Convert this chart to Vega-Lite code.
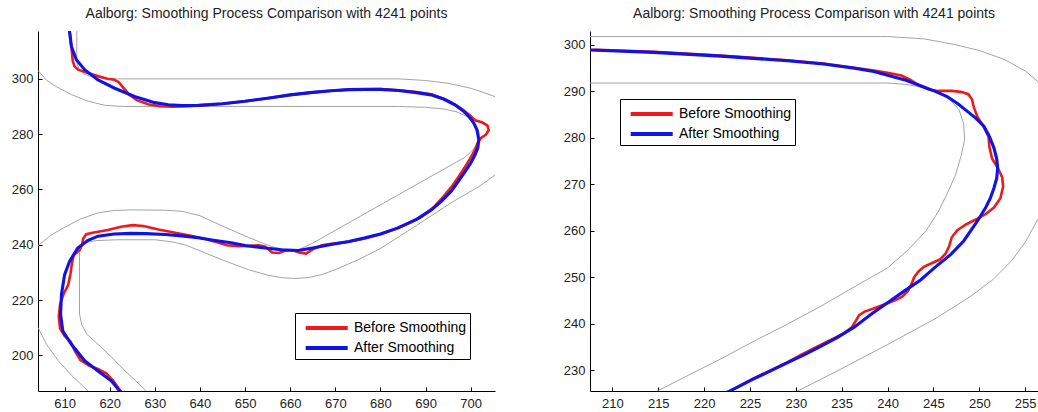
{
"$schema": "https://vega.github.io/schema/vega-lite/v6.json",
"background": "white",
"padding": {"left": 11, "top": 7, "right": 0, "bottom": 0},
"spacing": 68,
"config": {
  "view": {"stroke": null},
  "font": "Liberation Sans",
  "axis": {"grid": false, "title": null, "domainColor": "#000", "domainWidth": 1, "tickColor": "#000", "tickWidth": 1, "tickSize": -4, "labelColor": "#222", "labelFont": "Liberation Sans", "labelFontSize": 13},
  "axisX": {"labelPadding": 10},
  "axisY": {"labelPadding": 9},
  "title": {"font": "Liberation Sans", "fontSize": 14, "fontWeight": "normal", "color": "#222", "offset": 10, "baseline": "alphabetic"},
  "legend": {"title": null, "orient": "none", "symbolType": "M-0.43,0H3.77", "symbolSize": 400, "symbolStrokeWidth": 4, "labelOffset": 32, "padding": 3, "rowPadding": 0, "strokeColor": "#000", "fillColor": "#fff", "labelFont": "Liberation Sans", "labelFontSize": 14, "labelColor": "#000"}
},
"resolve": {"scale": {"color": "independent"}},
"datasets": {
"L": [
{"s":"g1","i":0,"x":612.7,"y":318},{"s":"g1","i":1,"x":612.7,"y":306},{"s":"g1","i":2,"x":613.2,"y":303.5},{"s":"g1","i":3,"x":614.5,"y":301.6},{"s":"g1","i":4,"x":616.5,"y":300.5},{"s":"g1","i":5,"x":619,"y":300.05},{"s":"g1","i":6,"x":622,"y":300},{"s":"g1","i":7,"x":684,"y":300},{"s":"g1","i":8,"x":690,"y":299.4},{"s":"g1","i":9,"x":695,"y":298.4},{"s":"g1","i":10,"x":700,"y":296.6},{"s":"g1","i":11,"x":703,"y":295},{"s":"g1","i":12,"x":706,"y":293.2},
{"s":"g2","i":0,"x":603,"y":304},{"s":"g2","i":1,"x":604.1,"y":303},{"s":"g2","i":2,"x":606,"y":299.5},{"s":"g2","i":3,"x":608,"y":297.3},{"s":"g2","i":4,"x":611.5,"y":294.3},{"s":"g2","i":5,"x":615.2,"y":291.9},{"s":"g2","i":6,"x":619,"y":290.4},{"s":"g2","i":7,"x":623,"y":290},{"s":"g2","i":8,"x":684,"y":290},{"s":"g2","i":9,"x":690,"y":289.7},{"s":"g2","i":10,"x":694,"y":289.1},{"s":"g2","i":11,"x":697,"y":288},{"s":"g2","i":12,"x":699,"y":286.5},{"s":"g2","i":13,"x":700.8,"y":284},{"s":"g2","i":14,"x":701.8,"y":281},{"s":"g2","i":15,"x":701.9,"y":278.5},{"s":"g2","i":16,"x":701.3,"y":276},{"s":"g2","i":17,"x":700.2,"y":273.8},{"s":"g2","i":18,"x":698.7,"y":271.6},{"s":"g2","i":19,"x":665,"y":240.6},{"s":"g2","i":20,"x":662,"y":238.3},
{"s":"g3","i":0,"x":603,"y":238.4},{"s":"g3","i":1,"x":604.5,"y":240.2},{"s":"g3","i":2,"x":607,"y":243.5},{"s":"g3","i":3,"x":610,"y":246.3},{"s":"g3","i":4,"x":613.5,"y":249.3},{"s":"g3","i":5,"x":617.4,"y":251.5},{"s":"g3","i":6,"x":621,"y":252.4},{"s":"g3","i":7,"x":625,"y":252.6},{"s":"g3","i":8,"x":632,"y":252.5},{"s":"g3","i":9,"x":636,"y":252.1},{"s":"g3","i":10,"x":640,"y":250.5},{"s":"g3","i":11,"x":643.3,"y":248},{"s":"g3","i":12,"x":647,"y":245.3},{"s":"g3","i":13,"x":650.7,"y":242.7},{"s":"g3","i":14,"x":654,"y":240.5},{"s":"g3","i":15,"x":656.6,"y":239},{"s":"g3","i":16,"x":659.5,"y":238.1},{"s":"g3","i":17,"x":662,"y":238.3},
{"s":"g4","i":0,"x":629,"y":185.6},{"s":"g4","i":1,"x":628.1,"y":187.1},{"s":"g4","i":2,"x":626,"y":190.4},{"s":"g4","i":3,"x":623,"y":195},{"s":"g4","i":4,"x":620,"y":200},{"s":"g4","i":5,"x":617.4,"y":204},{"s":"g4","i":6,"x":615,"y":207.5},{"s":"g4","i":7,"x":613.8,"y":211},{"s":"g4","i":8,"x":613.3,"y":215},{"s":"g4","i":9,"x":613.3,"y":237},{"s":"g4","i":10,"x":613.7,"y":239.5},{"s":"g4","i":11,"x":614.8,"y":240.8},{"s":"g4","i":12,"x":617,"y":241.5},{"s":"g4","i":13,"x":622,"y":241.8},{"s":"g4","i":14,"x":630,"y":241.8},{"s":"g4","i":15,"x":634,"y":241},{"s":"g4","i":16,"x":637,"y":239.8},{"s":"g4","i":17,"x":640,"y":237.8},{"s":"g4","i":18,"x":645,"y":234.5},{"s":"g4","i":19,"x":650.7,"y":231},{"s":"g4","i":20,"x":655,"y":229},{"s":"g4","i":21,"x":658,"y":228.1},{"s":"g4","i":22,"x":661,"y":227.8},{"s":"g4","i":23,"x":664,"y":228.1},{"s":"g4","i":24,"x":667,"y":229.2},{"s":"g4","i":25,"x":670,"y":231},{"s":"g4","i":26,"x":675,"y":234.5},{"s":"g4","i":27,"x":680.2,"y":238.8},{"s":"g4","i":28,"x":688,"y":247},{"s":"g4","i":29,"x":696.2,"y":255.7},{"s":"g4","i":30,"x":701.7,"y":260.9},{"s":"g4","i":31,"x":706,"y":265.9},
{"s":"g5","i":0,"x":603,"y":213},{"s":"g5","i":1,"x":604.1,"y":210},{"s":"g5","i":2,"x":606,"y":204},{"s":"g5","i":3,"x":608.5,"y":198.2},{"s":"g5","i":4,"x":611.5,"y":192.8},{"s":"g5","i":5,"x":615.2,"y":187.1},{"s":"g5","i":6,"x":616,"y":186},
{"s":"Before Smoothing","i":0,"x":611.0,"y":318},{"s":"Before Smoothing","i":1,"x":611.1,"y":317.1},{"s":"Before Smoothing","i":2,"x":611.5,"y":311.7},{"s":"Before Smoothing","i":3,"x":611.8,"y":306.5},{"s":"Before Smoothing","i":4,"x":612.2,"y":304.5},{"s":"Before Smoothing","i":5,"x":613,"y":303.3},{"s":"Before Smoothing","i":6,"x":615,"y":302.2},{"s":"Before Smoothing","i":7,"x":617.5,"y":300.9},{"s":"Before Smoothing","i":8,"x":619.5,"y":300},{"s":"Before Smoothing","i":9,"x":621,"y":299.7},{"s":"Before Smoothing","i":10,"x":622,"y":298.8},{"s":"Before Smoothing","i":11,"x":623,"y":296.8},{"s":"Before Smoothing","i":12,"x":624.3,"y":294.3},{"s":"Before Smoothing","i":13,"x":626,"y":292.3},{"s":"Before Smoothing","i":14,"x":628.5,"y":290.8},{"s":"Before Smoothing","i":15,"x":631,"y":290.1},{"s":"Before Smoothing","i":16,"x":634,"y":289.9},{"s":"Before Smoothing","i":17,"x":637,"y":290.1},{"s":"Before Smoothing","i":18,"x":640,"y":290.4},{"s":"Before Smoothing","i":19,"x":645,"y":291},{"s":"Before Smoothing","i":20,"x":650,"y":291.9},{"s":"Before Smoothing","i":21,"x":655,"y":293},{"s":"Before Smoothing","i":22,"x":660,"y":294.2},{"s":"Before Smoothing","i":23,"x":665,"y":295.1},{"s":"Before Smoothing","i":24,"x":669.1,"y":295.7},{"s":"Before Smoothing","i":25,"x":673,"y":296.1},{"s":"Before Smoothing","i":26,"x":676.6,"y":296.2},{"s":"Before Smoothing","i":27,"x":680,"y":296.3},{"s":"Before Smoothing","i":28,"x":684,"y":295.9},{"s":"Before Smoothing","i":29,"x":688,"y":295.2},{"s":"Before Smoothing","i":30,"x":691.5,"y":294.3},{"s":"Before Smoothing","i":31,"x":694.5,"y":292.5},{"s":"Before Smoothing","i":32,"x":696.5,"y":290.8},{"s":"Before Smoothing","i":33,"x":698.3,"y":288.8},{"s":"Before Smoothing","i":34,"x":699.8,"y":286.8},{"s":"Before Smoothing","i":35,"x":701,"y":285},{"s":"Before Smoothing","i":36,"x":702.5,"y":284.3},{"s":"Before Smoothing","i":37,"x":703.7,"y":283.2},{"s":"Before Smoothing","i":38,"x":704,"y":281.5},{"s":"Before Smoothing","i":39,"x":703.4,"y":279.8},{"s":"Before Smoothing","i":40,"x":702.3,"y":278.6},{"s":"Before Smoothing","i":41,"x":701.6,"y":277},{"s":"Before Smoothing","i":42,"x":701,"y":274.5},{"s":"Before Smoothing","i":43,"x":700,"y":271.5},{"s":"Before Smoothing","i":44,"x":698.7,"y":268},{"s":"Before Smoothing","i":45,"x":697.3,"y":264.5},{"s":"Before Smoothing","i":46,"x":695.8,"y":261},{"s":"Before Smoothing","i":47,"x":694,"y":257.5},{"s":"Before Smoothing","i":48,"x":691.8,"y":253.5},{"s":"Before Smoothing","i":49,"x":689,"y":250},{"s":"Before Smoothing","i":50,"x":686,"y":247.6},{"s":"Before Smoothing","i":51,"x":683.5,"y":245.8},{"s":"Before Smoothing","i":52,"x":680,"y":243.8},{"s":"Before Smoothing","i":53,"x":676.6,"y":242.3},{"s":"Before Smoothing","i":54,"x":673,"y":241.1},{"s":"Before Smoothing","i":55,"x":669.5,"y":240.4},{"s":"Before Smoothing","i":56,"x":667,"y":239.8},{"s":"Before Smoothing","i":57,"x":665,"y":238.3},{"s":"Before Smoothing","i":58,"x":663.5,"y":236.8},{"s":"Before Smoothing","i":59,"x":662,"y":237.2},{"s":"Before Smoothing","i":60,"x":660.5,"y":238},{"s":"Before Smoothing","i":61,"x":659,"y":237.9},{"s":"Before Smoothing","i":62,"x":657.5,"y":237},{"s":"Before Smoothing","i":63,"x":656,"y":237.2},{"s":"Before Smoothing","i":64,"x":654.5,"y":239.3},{"s":"Before Smoothing","i":65,"x":653,"y":239.8},{"s":"Before Smoothing","i":66,"x":651,"y":239.6},{"s":"Before Smoothing","i":67,"x":648.5,"y":239.5},{"s":"Before Smoothing","i":68,"x":646,"y":239.8},{"s":"Before Smoothing","i":69,"x":644,"y":240.8},{"s":"Before Smoothing","i":70,"x":641,"y":242.2},{"s":"Before Smoothing","i":71,"x":638,"y":243.2},{"s":"Before Smoothing","i":72,"x":634.5,"y":244.3},{"s":"Before Smoothing","i":73,"x":630.8,"y":245.5},{"s":"Before Smoothing","i":74,"x":627.5,"y":246.8},{"s":"Before Smoothing","i":75,"x":625,"y":247.1},{"s":"Before Smoothing","i":76,"x":622.5,"y":246.5},{"s":"Before Smoothing","i":77,"x":619.6,"y":245.3},{"s":"Before Smoothing","i":78,"x":616.5,"y":244.4},{"s":"Before Smoothing","i":79,"x":614.8,"y":243.8},{"s":"Before Smoothing","i":80,"x":614.1,"y":242.2},{"s":"Before Smoothing","i":81,"x":613.9,"y":240},{"s":"Before Smoothing","i":82,"x":613.3,"y":238},{"s":"Before Smoothing","i":83,"x":612,"y":236.2},{"s":"Before Smoothing","i":84,"x":611.6,"y":233},{"s":"Before Smoothing","i":85,"x":611.3,"y":229.5},{"s":"Before Smoothing","i":86,"x":610.8,"y":225.5},{"s":"Before Smoothing","i":87,"x":609.8,"y":222.3},{"s":"Before Smoothing","i":88,"x":609,"y":218.5},{"s":"Before Smoothing","i":89,"x":608.7,"y":214},{"s":"Before Smoothing","i":90,"x":609,"y":209.7},{"s":"Before Smoothing","i":91,"x":610,"y":207},{"s":"Before Smoothing","i":92,"x":611.3,"y":205},{"s":"Before Smoothing","i":93,"x":612.2,"y":201.8},{"s":"Before Smoothing","i":94,"x":613.5,"y":198.3},{"s":"Before Smoothing","i":95,"x":615.5,"y":196.2},{"s":"Before Smoothing","i":96,"x":617.5,"y":195},{"s":"Before Smoothing","i":97,"x":619.2,"y":193.5},{"s":"Before Smoothing","i":98,"x":620.7,"y":191},{"s":"Before Smoothing","i":99,"x":622.4,"y":187.1},{"s":"Before Smoothing","i":100,"x":623.2,"y":186},
{"s":"After Smoothing","i":0,"x":611.0,"y":318},{"s":"After Smoothing","i":1,"x":611.1,"y":317.1},{"s":"After Smoothing","i":2,"x":611.5,"y":311.7},{"s":"After Smoothing","i":3,"x":612.6,"y":306.9},{"s":"After Smoothing","i":4,"x":614.5,"y":303.2},{"s":"After Smoothing","i":5,"x":617.4,"y":299.6},{"s":"After Smoothing","i":6,"x":621.1,"y":296.6},{"s":"After Smoothing","i":7,"x":625.5,"y":293.6},{"s":"After Smoothing","i":8,"x":630,"y":291.4},{"s":"After Smoothing","i":9,"x":633,"y":290.6},{"s":"After Smoothing","i":10,"x":636,"y":290.3},{"s":"After Smoothing","i":11,"x":639.6,"y":290.4},{"s":"After Smoothing","i":12,"x":645,"y":291},{"s":"After Smoothing","i":13,"x":650,"y":291.9},{"s":"After Smoothing","i":14,"x":655,"y":293},{"s":"After Smoothing","i":15,"x":660,"y":294.2},{"s":"After Smoothing","i":16,"x":665,"y":295.1},{"s":"After Smoothing","i":17,"x":669.1,"y":295.7},{"s":"After Smoothing","i":18,"x":673,"y":296.1},{"s":"After Smoothing","i":19,"x":676.6,"y":296.2},{"s":"After Smoothing","i":20,"x":680,"y":296.2},{"s":"After Smoothing","i":21,"x":684,"y":295.8},{"s":"After Smoothing","i":22,"x":688,"y":295},{"s":"After Smoothing","i":23,"x":691.2,"y":294.2},{"s":"After Smoothing","i":24,"x":694,"y":292.7},{"s":"After Smoothing","i":25,"x":696.5,"y":290.6},{"s":"After Smoothing","i":26,"x":698.3,"y":288.5},{"s":"After Smoothing","i":27,"x":699.6,"y":286.4},{"s":"After Smoothing","i":28,"x":700.7,"y":284},{"s":"After Smoothing","i":29,"x":701.4,"y":281.6},{"s":"After Smoothing","i":30,"x":701.8,"y":278},{"s":"After Smoothing","i":31,"x":701.6,"y":275},{"s":"After Smoothing","i":32,"x":701,"y":272.6},{"s":"After Smoothing","i":33,"x":700,"y":269.5},{"s":"After Smoothing","i":34,"x":698.8,"y":266.5},{"s":"After Smoothing","i":35,"x":697.3,"y":263},{"s":"After Smoothing","i":36,"x":695.7,"y":259.3},{"s":"After Smoothing","i":37,"x":693.5,"y":255.7},{"s":"After Smoothing","i":38,"x":691.2,"y":252.5},{"s":"After Smoothing","i":39,"x":688,"y":249.2},{"s":"After Smoothing","i":40,"x":683.9,"y":246.1},{"s":"After Smoothing","i":41,"x":680,"y":243.9},{"s":"After Smoothing","i":42,"x":676.6,"y":242.5},{"s":"After Smoothing","i":43,"x":673,"y":241.2},{"s":"After Smoothing","i":44,"x":669.1,"y":240.1},{"s":"After Smoothing","i":45,"x":665,"y":238.8},{"s":"After Smoothing","i":46,"x":661.8,"y":237.9},{"s":"After Smoothing","i":47,"x":658,"y":238.2},{"s":"After Smoothing","i":48,"x":654.4,"y":238.8},{"s":"After Smoothing","i":49,"x":650,"y":239.7},{"s":"After Smoothing","i":50,"x":646.9,"y":240.7},{"s":"After Smoothing","i":51,"x":643,"y":241.6},{"s":"After Smoothing","i":52,"x":639.6,"y":242.5},{"s":"After Smoothing","i":53,"x":636,"y":243.2},{"s":"After Smoothing","i":54,"x":632.3,"y":243.7},{"s":"After Smoothing","i":55,"x":628,"y":244},{"s":"After Smoothing","i":56,"x":624.7,"y":244.1},{"s":"After Smoothing","i":57,"x":621,"y":243.9},{"s":"After Smoothing","i":58,"x":617.4,"y":243.1},{"s":"After Smoothing","i":59,"x":615.2,"y":241.6},{"s":"After Smoothing","i":60,"x":612.9,"y":238.8},{"s":"After Smoothing","i":61,"x":611.1,"y":234},{"s":"After Smoothing","i":62,"x":610,"y":229.2},{"s":"After Smoothing","i":63,"x":609.3,"y":222},{"s":"After Smoothing","i":64,"x":609.1,"y":214.8},{"s":"After Smoothing","i":65,"x":609.6,"y":208.8},{"s":"After Smoothing","i":66,"x":611.5,"y":204},{"s":"After Smoothing","i":67,"x":614.5,"y":198},{"s":"After Smoothing","i":68,"x":617.4,"y":194.3},{"s":"After Smoothing","i":69,"x":620.4,"y":190.7},{"s":"After Smoothing","i":70,"x":622.2,"y":187.1},{"s":"After Smoothing","i":71,"x":623,"y":186}
],
"R": [
{"s":"h1","i":0,"x":207,"y":301.8},{"s":"h1","i":1,"x":240,"y":301.8},{"s":"h1","i":2,"x":244,"y":301.3},{"s":"h1","i":3,"x":247.3,"y":300.1},{"s":"h1","i":4,"x":250,"y":298.8},{"s":"h1","i":5,"x":252.7,"y":296.9},{"s":"h1","i":6,"x":255,"y":294.4},{"s":"h1","i":7,"x":256.4,"y":292.1},{"s":"h1","i":8,"x":257.5,"y":289.8},
{"s":"h2","i":0,"x":207,"y":291.8},{"s":"h2","i":1,"x":240,"y":291.8},{"s":"h2","i":2,"x":242,"y":291.5},{"s":"h2","i":3,"x":244,"y":290.8},{"s":"h2","i":4,"x":245.7,"y":289.6},{"s":"h2","i":5,"x":246.9,"y":288},{"s":"h2","i":6,"x":247.8,"y":286},{"s":"h2","i":7,"x":248.3,"y":283},{"s":"h2","i":8,"x":248.4,"y":279.5},{"s":"h2","i":9,"x":248,"y":276},{"s":"h2","i":10,"x":247.4,"y":272},{"s":"h2","i":11,"x":246.5,"y":268},{"s":"h2","i":12,"x":245.5,"y":264},{"s":"h2","i":13,"x":244.2,"y":260},{"s":"h2","i":14,"x":242.3,"y":256},{"s":"h2","i":15,"x":240,"y":252},{"s":"h2","i":16,"x":236,"y":247.5},{"s":"h2","i":17,"x":232.5,"y":243.5},{"s":"h2","i":18,"x":229.1,"y":239.9},{"s":"h2","i":19,"x":225.5,"y":236.3},{"s":"h2","i":20,"x":222,"y":232.6},{"s":"h2","i":21,"x":218,"y":228.6},{"s":"h2","i":22,"x":215.3,"y":225.9},{"s":"h2","i":23,"x":214.5,"y":225.1},
{"s":"h3","i":0,"x":229.5,"y":224.8},{"s":"h3","i":1,"x":230.3,"y":225.6},{"s":"h3","i":2,"x":234.5,"y":229.8},{"s":"h3","i":3,"x":240,"y":235.5},{"s":"h3","i":4,"x":245.4,"y":241.3},{"s":"h3","i":5,"x":249,"y":245.8},{"s":"h3","i":6,"x":251.5,"y":249.5},{"s":"h3","i":7,"x":253.5,"y":253.5},{"s":"h3","i":8,"x":255,"y":257.5},{"s":"h3","i":9,"x":256.4,"y":262.5},{"s":"h3","i":10,"x":257.5,"y":267},
{"s":"Before Smoothing","i":0,"x":207,"y":299.1},{"s":"Before Smoothing","i":1,"x":207.6,"y":299},{"s":"Before Smoothing","i":2,"x":214.5,"y":298.5},{"s":"Before Smoothing","i":3,"x":221.8,"y":297.7},{"s":"Before Smoothing","i":4,"x":229.1,"y":296.7},{"s":"Before Smoothing","i":5,"x":233,"y":296},{"s":"Before Smoothing","i":6,"x":236.4,"y":295.1},{"s":"Before Smoothing","i":7,"x":238.5,"y":294.5},{"s":"Before Smoothing","i":8,"x":240,"y":294},{"s":"Before Smoothing","i":9,"x":241.5,"y":293.4},{"s":"Before Smoothing","i":10,"x":242.5,"y":292.5},{"s":"Before Smoothing","i":11,"x":243.5,"y":291.2},{"s":"Before Smoothing","i":12,"x":244.5,"y":290.4},{"s":"Before Smoothing","i":13,"x":245.5,"y":290.1},{"s":"Before Smoothing","i":14,"x":247,"y":290.1},{"s":"Before Smoothing","i":15,"x":248,"y":289.9},{"s":"Before Smoothing","i":16,"x":248.8,"y":289.4},{"s":"Before Smoothing","i":17,"x":249.2,"y":288.3},{"s":"Before Smoothing","i":18,"x":249.4,"y":286.6},{"s":"Before Smoothing","i":19,"x":249.8,"y":284.5},{"s":"Before Smoothing","i":20,"x":250.5,"y":282.3},{"s":"Before Smoothing","i":21,"x":251,"y":280.3},{"s":"Before Smoothing","i":22,"x":251.1,"y":278},{"s":"Before Smoothing","i":23,"x":251.4,"y":275.5},{"s":"Before Smoothing","i":24,"x":252,"y":273.6},{"s":"Before Smoothing","i":25,"x":252.5,"y":271.5},{"s":"Before Smoothing","i":26,"x":252.6,"y":269.5},{"s":"Before Smoothing","i":27,"x":252.3,"y":267},{"s":"Before Smoothing","i":28,"x":251.6,"y":265},{"s":"Before Smoothing","i":29,"x":250.7,"y":263.6},{"s":"Before Smoothing","i":30,"x":249.8,"y":262.6},{"s":"Before Smoothing","i":31,"x":248.6,"y":261.4},{"s":"Before Smoothing","i":32,"x":247.6,"y":260.1},{"s":"Before Smoothing","i":33,"x":247,"y":258.6},{"s":"Before Smoothing","i":34,"x":246.7,"y":256.6},{"s":"Before Smoothing","i":35,"x":246.3,"y":255},{"s":"Before Smoothing","i":36,"x":245.7,"y":253.8},{"s":"Before Smoothing","i":37,"x":244.8,"y":253},{"s":"Before Smoothing","i":38,"x":244,"y":252.3},{"s":"Before Smoothing","i":39,"x":243.4,"y":251.3},{"s":"Before Smoothing","i":40,"x":242.9,"y":250},{"s":"Before Smoothing","i":41,"x":242.6,"y":248.5},{"s":"Before Smoothing","i":42,"x":242.2,"y":247},{"s":"Before Smoothing","i":43,"x":241.6,"y":245.8},{"s":"Before Smoothing","i":44,"x":240.8,"y":245},{"s":"Before Smoothing","i":45,"x":240,"y":244.4},{"s":"Before Smoothing","i":46,"x":239.2,"y":243.8},{"s":"Before Smoothing","i":47,"x":238.4,"y":243.2},{"s":"Before Smoothing","i":48,"x":237.5,"y":242.6},{"s":"Before Smoothing","i":49,"x":236.9,"y":241.8},{"s":"Before Smoothing","i":50,"x":236.5,"y":240.5},{"s":"Before Smoothing","i":51,"x":236.1,"y":239.2},{"s":"Before Smoothing","i":52,"x":235.3,"y":238},{"s":"Before Smoothing","i":53,"x":234.3,"y":237},{"s":"Before Smoothing","i":54,"x":233.3,"y":236},{"s":"Before Smoothing","i":55,"x":232,"y":234.7},{"s":"Before Smoothing","i":56,"x":230.5,"y":233.2},{"s":"Before Smoothing","i":57,"x":229.1,"y":231.7},{"s":"Before Smoothing","i":58,"x":227.3,"y":230},{"s":"Before Smoothing","i":59,"x":225.4,"y":228.2},{"s":"Before Smoothing","i":60,"x":222.9,"y":225.6},{"s":"Before Smoothing","i":61,"x":222.3,"y":225},
{"s":"After Smoothing","i":0,"x":207,"y":299},{"s":"After Smoothing","i":1,"x":207.6,"y":298.9},{"s":"After Smoothing","i":2,"x":214.5,"y":298.4},{"s":"After Smoothing","i":3,"x":221.8,"y":297.6},{"s":"After Smoothing","i":4,"x":229.1,"y":296.6},{"s":"After Smoothing","i":5,"x":233,"y":295.9},{"s":"After Smoothing","i":6,"x":236.4,"y":295},{"s":"After Smoothing","i":7,"x":238.5,"y":294.3},{"s":"After Smoothing","i":8,"x":240,"y":293.5},{"s":"After Smoothing","i":9,"x":242,"y":292.4},{"s":"After Smoothing","i":10,"x":243.6,"y":291.2},{"s":"After Smoothing","i":11,"x":245.2,"y":290},{"s":"After Smoothing","i":12,"x":246.5,"y":288.9},{"s":"After Smoothing","i":13,"x":247.7,"y":287.3},{"s":"After Smoothing","i":14,"x":248.7,"y":285.7},{"s":"After Smoothing","i":15,"x":249.7,"y":284.1},{"s":"After Smoothing","i":16,"x":250.5,"y":282.5},{"s":"After Smoothing","i":17,"x":251.1,"y":280.3},{"s":"After Smoothing","i":18,"x":251.6,"y":277.8},{"s":"After Smoothing","i":19,"x":251.9,"y":275.5},{"s":"After Smoothing","i":20,"x":252,"y":273.5},{"s":"After Smoothing","i":21,"x":251.9,"y":271.3},{"s":"After Smoothing","i":22,"x":251.6,"y":269.2},{"s":"After Smoothing","i":23,"x":251.2,"y":267},{"s":"After Smoothing","i":24,"x":250.7,"y":265},{"s":"After Smoothing","i":25,"x":249.8,"y":262.1},{"s":"After Smoothing","i":26,"x":248.3,"y":257.8},{"s":"After Smoothing","i":27,"x":246.9,"y":254.9},{"s":"After Smoothing","i":28,"x":245.1,"y":252},{"s":"After Smoothing","i":29,"x":243.6,"y":249.4},{"s":"After Smoothing","i":30,"x":241.8,"y":247},{"s":"After Smoothing","i":31,"x":240,"y":244.5},{"s":"After Smoothing","i":32,"x":238.2,"y":242},{"s":"After Smoothing","i":33,"x":236.4,"y":239.3},{"s":"After Smoothing","i":34,"x":234.5,"y":237},{"s":"After Smoothing","i":35,"x":232.7,"y":235.1},{"s":"After Smoothing","i":36,"x":231,"y":233.4},{"s":"After Smoothing","i":37,"x":229.1,"y":231.6},{"s":"After Smoothing","i":38,"x":227.3,"y":229.9},{"s":"After Smoothing","i":39,"x":225.4,"y":228.1},{"s":"After Smoothing","i":40,"x":222.9,"y":225.6},{"s":"After Smoothing","i":41,"x":222.3,"y":225}
]
},
"hconcat": [
{
  "width": 457, "height": 360,
  "title": "Aalborg: Smoothing Process Comparison with 4241 points",
  "data": {"name": "L"},
  "encoding": {
    "x": {"field": "x", "type": "quantitative", "scale": {"domain": [604.1, 705.4], "nice": false, "zero": false}, "axis": {"values": [610,620,630,640,650,660,670,680,690,700]}},
    "y": {"field": "y", "type": "quantitative", "scale": {"domain": [187.1, 317.3], "nice": false, "zero": false}, "axis": {"values": [200,220,240,260,280,300]}},
    "order": {"field": "i", "type": "quantitative"}
  },
  "layer": [
    {"transform": [{"filter": {"not": {"field": "s", "oneOf": ["Before Smoothing", "After Smoothing"]}}}],
     "mark": {"type": "line", "clip": true, "color": "#9a9a9a", "strokeWidth": 0.9},
     "encoding": {"detail": {"field": "s"}}},
    {"transform": [{"filter": {"field": "s", "equal": "Before Smoothing"}}],
     "mark": {"type": "line", "clip": true, "strokeWidth": 2.6},
     "encoding": {"color": {"field": "s", "type": "nominal", "scale": {"domain": ["Before Smoothing", "After Smoothing"], "range": ["#ee1a1a", "#1212e6"]}, "legend": {"legendX": 257, "legendY": 282}}}},
    {"transform": [{"filter": {"field": "s", "equal": "After Smoothing"}}],
     "mark": {"type": "line", "clip": true, "strokeWidth": 3.1},
     "encoding": {"color": {"field": "s", "type": "nominal", "scale": {"domain": ["Before Smoothing", "After Smoothing"], "range": ["#ee1a1a", "#1212e6"]}, "legend": {"legendX": 257, "legendY": 282}}}}
  ]
},
{
  "width": 448, "height": 360,
  "title": "Aalborg: Smoothing Process Comparison with 4241 points",
  "data": {"name": "R"},
  "encoding": {
    "x": {"field": "x", "type": "quantitative", "scale": {"domain": [207.56, 256.4], "nice": false, "zero": false}, "axis": {"values": [210,215,220,225,230,235,240,245,250,255]}},
    "y": {"field": "y", "type": "quantitative", "scale": {"domain": [225.5, 303], "nice": false, "zero": false}, "axis": {"values": [230,240,250,260,270,280,290,300]}},
    "order": {"field": "i", "type": "quantitative"}
  },
  "layer": [
    {"transform": [{"filter": {"not": {"field": "s", "oneOf": ["Before Smoothing", "After Smoothing"]}}}],
     "mark": {"type": "line", "clip": true, "color": "#9a9a9a", "strokeWidth": 0.9},
     "encoding": {"detail": {"field": "s"}}},
    {"transform": [{"filter": {"field": "s", "equal": "Before Smoothing"}}],
     "mark": {"type": "line", "clip": true, "strokeWidth": 2.6},
     "encoding": {"color": {"field": "s", "type": "nominal", "scale": {"domain": ["Before Smoothing", "After Smoothing"], "range": ["#ee1a1a", "#1212e6"]}, "legend": {"legendX": 30, "legendY": 68}}}},
    {"transform": [{"filter": {"field": "s", "equal": "After Smoothing"}}],
     "mark": {"type": "line", "clip": true, "strokeWidth": 3.1},
     "encoding": {"color": {"field": "s", "type": "nominal", "scale": {"domain": ["Before Smoothing", "After Smoothing"], "range": ["#ee1a1a", "#1212e6"]}, "legend": {"legendX": 30, "legendY": 68}}}}
  ]
}
]
}
